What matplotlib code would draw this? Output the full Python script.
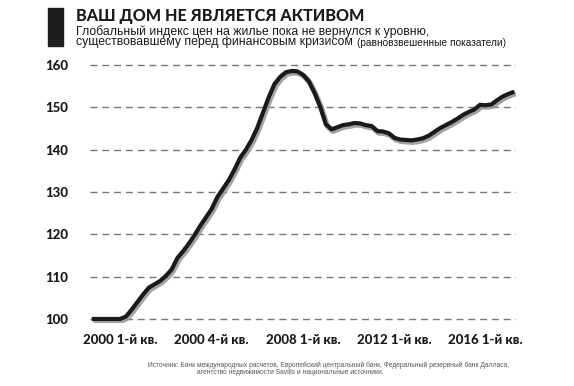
import matplotlib
matplotlib.use("Agg")
import matplotlib.pyplot as plt
import matplotlib.patheffects as pe
from matplotlib.patches import Rectangle

# Quarterly global house price index (quarters from 1998 Q4)
index_values = [
    100.0, 100.0, 100.0, 100.0, 100.0, 100.0, 100.6, 102.2, 104.0, 105.8,
    107.4, 108.2, 109.0, 110.2, 111.7, 114.4, 116.0, 117.8, 119.8, 122.0,
    124.0, 126.0, 128.8, 130.8, 132.8, 135.3, 138.1, 140.0, 142.3, 145.2,
    148.8, 152.4, 155.5, 157.2, 158.3, 158.6, 158.5, 157.7, 156.2, 153.5,
    150.2, 146.0, 144.8, 145.3, 145.8, 146.0, 146.3, 146.2, 145.8, 145.6,
    144.4, 144.3, 143.9, 142.8, 142.4, 142.3, 142.2, 142.4, 142.7, 143.3,
    144.2, 145.1, 145.8, 146.5, 147.3, 148.2, 148.9, 149.5, 150.6, 150.5,
    150.7, 151.7, 152.6, 153.2, 153.7,
]
quarters = list(range(len(index_values)))
tick_quarters = [5, 21, 37, 53, 69]
tick_labels = ["2000 1-й кв.", "2000 4-й кв.", "2008 1-й кв.", "2012 1-й кв.", "2016 1-й кв."]
y_ticks = [100, 110, 120, 130, 140, 150, 160]

title = "ВАШ ДОМ НЕ ЯВЛЯЕТСЯ АКТИВОМ"
subtitle1 = "Глобальный индекс цен на жилье пока не вернулся к уровню,"
subtitle2 = "существовавшему перед финансовым кризисом"
subtitle2b = "(равновзвешенные показатели)"
source1 = "Источник: Банк международных расчетов, Европейский центральный банк, Федеральный резервный банк Далласа,"
source2 = "агентство недвижимости Savills и национальные источники."

W, H = 574, 386
fig = plt.figure(figsize=(W / 100, H / 100), dpi=100)
fig.patch.set_facecolor("white")

ax_left, ax_right = 90 / W, 516 / W
ax_bottom, ax_top = 1 - 323.2 / H, 1 - 60.8 / H
ax = fig.add_axes([ax_left, ax_bottom, ax_right - ax_left, ax_top - ax_bottom])
ax.set_xlim(-0.3, 74.3)
ax.set_ylim(99, 161)

for yv in y_ticks:
    ax.axhline(yv, color="#777777", lw=1.0, ls=(0, (5, 3.5)), zorder=1)

ax.plot(quarters, index_values, color="#1a1a1a", lw=3.0, solid_capstyle="butt",
        zorder=3,
        path_effects=[pe.SimpleLineShadow(offset=(1.0, -1.3), shadow_color="#999999", alpha=0.9,
                                          linewidth=4.0),
                      pe.Normal()])

for s in ax.spines.values():
    s.set_visible(False)
ax.set_yticks(y_ticks)
ax.set_yticklabels([str(v) for v in y_ticks])
ax.set_xticks(tick_quarters)
ax.set_xticklabels(tick_labels)
ax.tick_params(axis="both", length=0)
ax.tick_params(axis="y", pad=16)
ax.tick_params(axis="x", pad=8)
for lab in ax.get_yticklabels() + ax.get_xticklabels():
    lab.set_fontfamily("Lato")
    lab.set_fontweight("black")
    lab.set_fontsize(9.5)
    lab.set_color("#1a1a1a")

# Header
fig.patches.append(Rectangle((48 / W, 1 - 46 / H), 15 / W, 38 / H, transform=fig.transFigure,
                             color="#1e1e1e", zorder=5))
fig.text(76 / W, 1 - 20.5 / H, title, fontsize=11.6, fontweight="black", family="Lato",
         color="#1a1a1a", va="baseline", ha="left")
fig.text(76 / W, 1 - 35 / H, subtitle1, fontsize=8.8, family="Liberation Sans",
         color="#1a1a1a", va="baseline", ha="left")
t2 = fig.text(76 / W, 1 - 45.5 / H, subtitle2, fontsize=8.8, family="Liberation Sans",
              color="#1a1a1a", va="baseline", ha="left")
fig.canvas.draw()
bb = t2.get_window_extent()
fig.text(bb.x1 / W + 4 / W, 1 - 45.5 / H, subtitle2b, fontsize=7.3, family="Liberation Sans",
         color="#1a1a1a", va="baseline", ha="left")

# Source
fig.text(148 / W, 1 - 367 / H, source1, fontsize=4.8, family="Liberation Sans",
         color="#555555", va="baseline", ha="left")
fig.text(197 / W, 1 - 373.5 / H, source2, fontsize=4.8, family="Liberation Sans",
         color="#555555", va="baseline", ha="left")

fig.savefig("out.png", dpi=100, facecolor="white")
